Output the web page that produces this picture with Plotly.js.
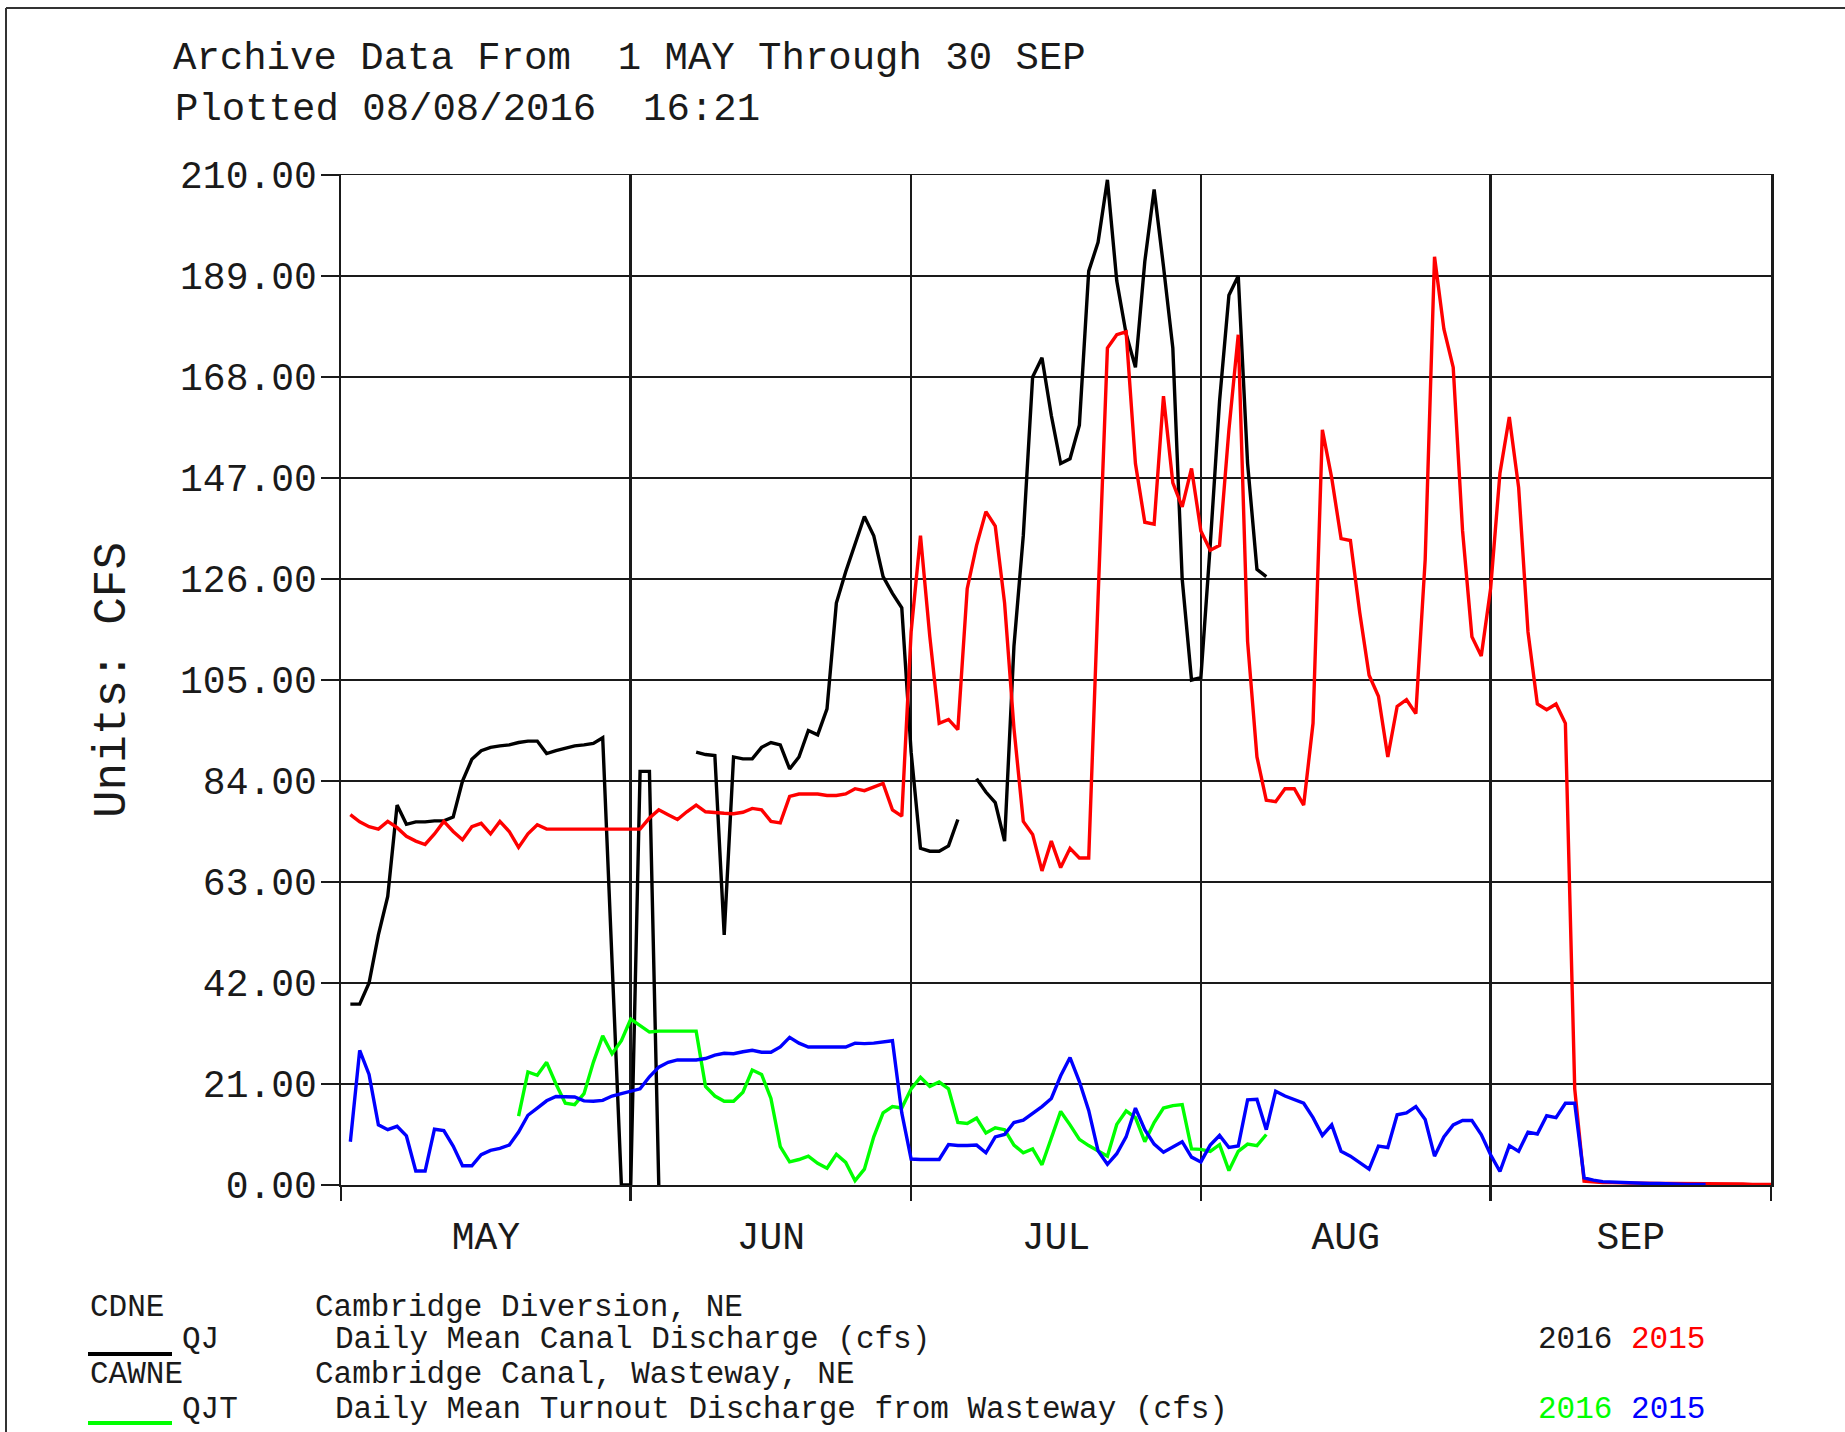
<!DOCTYPE html>
<html><head><meta charset="utf-8">
<script src="https://cdn.plot.ly/plotly-3.0.1.min.js"></script>
<style>html,body{margin:0;padding:0;background:#fff;} #chart{width:1845px;height:1432px;}</style>
</head><body><div id="chart"></div>
<script>
// ---- data (daily means, day 1 = 1 May, plotted at end of day) ----
const monthLabels = ['MAY', 'JUN', 'JUL', 'AUG', 'SEP'];
const monthStartDays = [0, 31, 61, 92, 123, 153];
const monthMidDays = [15.5, 46, 76.5, 107.5, 138];
const yTicks = [0, 21, 42, 63, 84, 105, 126, 147, 168, 189, 210];

// CDNE QJ 2016 (black)
const qj2016 = [
  37.6, 37.6, 42, 52, 60, 79, 75, 75.5, 75.5, 75.7,
  75.7, 76.5, 84, 88.5, 90.3, 91, 91.3, 91.5, 92, 92.3,
  92.3, 89.7, 90.3, 90.8, 91.3, 91.5, 91.8, 93, 45, 0,
  0, 86, 86, 0, null, null, null, 90, 89.5, 89.3,
  52, 89, 88.6, 88.6, 91, 92, 91.5, 86.5, 89, 94.5,
  93.6, 99, 121, 127.5, 133, 139, 135, 126.5, 123, 120,
  90, 70, 69.4, 69.4, 70.5, 76, null, 84.5, 81.7, 79.5,
  71.5, 112, 135, 168, 172, 160, 150, 151, 158, 190,
  196, 209, 188, 177, 170, 192, 207, 191, 174, 126,
  105, 105.5, 133, 163, 185, 189, 150, 128, 126.5
];
// CDNE QJ 2015 (red)
const qj2015 = [
  77, 75.5, 74.5, 74, 75.6, 74.3, 72.5, 71.5, 70.8, 73,
  75.6, 73.5, 71.8, 74.5, 75.2, 73, 75.6, 73.5, 70.2, 73,
  74.9, 74, 74, 74, 74, 74, 74, 74, 74, 74,
  74, 74, 76.3, 78, 77, 76, 77.6, 79, 77.6, 77.4,
  77.3, 77.2, 77.5, 78.3, 78, 75.6, 75.3, 80.8, 81.3, 81.3,
  81.3, 81, 81, 81.3, 82.4, 82, 82.8, 83.5, 78, 76.7,
  115, 135, 114, 96, 96.8, 94.7, 124, 133, 140, 137,
  121, 95, 75.6, 72.9, 65.3, 71.5, 66, 70, 68, 68,
  122, 174, 176.8, 177.4, 150, 137.8, 137.4, 164, 146, 141,
  149, 136, 132, 133, 157, 176.8, 113, 89, 80, 79.7,
  82.4, 82.4, 79, 96, 157, 147, 134.4, 134, 119, 106,
  101.6, 89, 99.5, 100.9, 98, 130, 193, 178, 170, 136,
  114, 110, 124, 148, 159.7, 145, 115, 100, 98.8, 100,
  96, 20, 0.8, 0.6, 0.5, 0.5, 0.4, 0.4, 0.4, 0.3,
  0.3, 0.3, 0.3, 0.2, 0.2, 0.2, 0.2, 0.2, 0.2, 0.2,
  0.1, 0.1, 0.1
];
// CAWNE QJT 2016 (green)
const qjt2016 = [
  null, null, null, null, null, null, null, null, null, null,
  null, null, null, null, null, null, null, null, 14.3, 23.5,
  22.8, 25.5, 21, 17, 16.7, 19, 25.5, 31, 27.3, 30,
  34.5, 33.2, 31.8, 32, 32, 32, 32, 32, 20.5, 18.5,
  17.4, 17.4, 19.3, 23.9, 23, 18, 8, 4.8, 5.3, 6,
  4.5, 3.5, 6.4, 4.7, 0.9, 3.3, 10, 15, 16.3, 16,
  20, 22.4, 20.5, 21.4, 20, 13, 12.8, 13.9, 10.8, 11.9,
  11.5, 8.3, 6.7, 7.5, 4.2, 10, 15.3, 12.5, 9.5, 8.2,
  7, 6, 12.6, 15.4, 14, 9, 13, 16, 16.5, 16.7,
  7.5, 7.4, 7, 8.4, 3, 7, 8.5, 8.2, 10.5
];
// CAWNE QJT 2015 (blue)
const qjt2015 = [
  9, 28, 23, 12.5, 11.5, 12.2, 10.2, 2.9, 2.9, 11.6,
  11.3, 8.1, 4, 4, 6.3, 7.2, 7.6, 8.3, 11, 14.5,
  16, 17.5, 18.4, 18.4, 18.3, 17.5, 17.4, 17.6, 18.5, 19,
  19.5, 20, 22.5, 24.5, 25.5, 26, 26, 26, 26.3, 27,
  27.4, 27.3, 27.7, 28, 27.6, 27.6, 28.7, 30.7, 29.5, 28.7,
  28.7, 28.7, 28.7, 28.7, 29.5, 29.4, 29.5, 29.8, 30, 15,
  5.4, 5.3, 5.3, 5.3, 8.4, 8.2, 8.2, 8.3, 6.7, 10,
  10.5, 13, 13.5, 14.8, 16.3, 18, 22.7, 26.5, 21.5, 15.5,
  7.1, 4.3, 6.5, 10, 16, 11.5, 8.5, 6.8, 8, 9,
  5.8, 4.8, 8.3, 10.3, 7.8, 8.1, 17.7, 17.8, 11.5, 19.5,
  18.5, 17.8, 17, 14, 10.3, 12.5, 7, 6, 4.7, 3.3,
  8.1, 7.8, 14.6, 15, 16.3, 13.6, 6, 10, 12.5, 13.4,
  13.4, 10.5, 6.3, 2.8, 8.2, 7, 11, 10.6, 14.4, 14,
  17, 17, 1.5, 1.0, 0.7, 0.6, 0.5, 0.5, 0.4, 0.3,
  0.3, 0.2, 0.2, 0.1, 0.1, 0.1
];

const dayIndex = n => Array.from({length: n}, (_, i) => i + 1);

// ---- layout helpers (pixel -> paper) ----
const L = 341, R = 74, T = 175, B = 247, W = 1845, H = 1432;
const PW = W - L - R, PH = H - T - B;
const px = x => (x - L) / PW;
const py = y => (H - B - y) / PH;

const FONT = 'Liberation Mono, DejaVu Sans Mono, monospace';
const INK = '#1a1a1a';
const GREEN = '#00ff00';

const traces = [
  {x: dayIndex(qj2016.length), y: qj2016, name: 'QJ 2016', type: 'scatter', mode: 'lines',
   line: {color: '#000000', width: 3.4}, connectgaps: false},
  {x: dayIndex(qj2015.length), y: qj2015, name: 'QJ 2015', type: 'scatter', mode: 'lines',
   line: {color: '#ff0000', width: 3.4}, connectgaps: false},
  {x: dayIndex(qjt2016.length), y: qjt2016, name: 'QJT 2016', type: 'scatter', mode: 'lines',
   line: {color: GREEN, width: 3.4}, connectgaps: false},
  {x: dayIndex(qjt2015.length), y: qjt2015, name: 'QJT 2015', type: 'scatter', mode: 'lines',
   line: {color: '#0000ff', width: 3.4}, connectgaps: false, xaxis: 'x2'}
];

function ann(text, x, y, size, extra) {
  return Object.assign({text: text, xref: 'paper', yref: 'paper', x: px(x), y: py(y),
    xanchor: 'left', yanchor: 'middle', showarrow: false,
    font: {family: FONT, size: size, color: INK}}, extra || {});
}

const layout = {
  width: W, height: H,
  margin: {l: L, r: R, t: T, b: B, pad: 0},
  paper_bgcolor: '#ffffff', plot_bgcolor: '#ffffff',
  showlegend: false,
  font: {family: FONT, color: INK},
  title: {text: 'Archive Data From\u00a0\u00a01 MAY Through 30 SEP',
    font: {family: FONT, size: 39, color: INK},
    xref: 'container', yref: 'container', x: 173 / W, xanchor: 'left',
    y: 1 - 55 / H, yanchor: 'middle', pad: {l: 0, r: 0, t: 0, b: 0}},
  xaxis: {range: [0, 153], tickmode: 'array', tickvals: monthStartDays,
    showticklabels: false, ticks: 'outside', ticklen: 14, tickwidth: 2.5, tickcolor: INK,
    showgrid: true, gridcolor: INK, gridwidth: 2.5, zeroline: false,
    showline: true, mirror: true, linecolor: INK, linewidth: 1.5, fixedrange: true},
  xaxis2: {range: [0, 153], overlaying: 'x', anchor: 'y', side: 'bottom',
    tickmode: 'array', tickvals: monthMidDays, ticktext: monthLabels,
    ticks: 'outside', ticklen: 17, tickcolor: 'rgba(0,0,0,0)', showgrid: false,
    zeroline: false, showline: false,
    tickfont: {family: FONT, size: 38, color: INK}},
  yaxis: {range: [0, 210], tickmode: 'array', tickvals: yTicks, tickformat: '.2f',
    ticks: 'outside', ticklen: 18, tickwidth: 1.5, tickcolor: INK,
    showgrid: true, gridcolor: INK, gridwidth: 1.5, zeroline: false,
    showline: true, mirror: true, linecolor: INK, linewidth: 2.5,
    ticklabelstandoff: -4,
    tickfont: {family: FONT, size: 38, color: INK},
    title: {text: 'Units: CFS', font: {family: FONT, size: 46, color: INK}, standoff: 40}},
  annotations: [
    ann('Plotted 08/08/2016\u00a0\u00a016:21', 173, 110, 39),
    ann('CDNE', 88, 1307, 31),
    ann('Cambridge Diversion, NE', 313, 1307, 31),
    ann('QJ', 180, 1339, 31),
    ann('Daily Mean Canal Discharge (cfs)', 333, 1339, 31),
    ann('2016 <span style="color:#ff0000">2015</span>', 1536, 1339, 31),
    ann('CAWNE', 88, 1374, 31),
    ann('Cambridge Canal, Wasteway, NE', 313, 1374, 31),
    ann('QJT', 180, 1409, 31),
    ann('Daily Mean Turnout Discharge from Wasteway (cfs)', 333, 1409, 31),
    ann('<span style="color:#00ff00">2016</span> <span style="color:#0000ff">2015</span>', 1536, 1409, 31)
  ],
  shapes: [
    {type: 'line', xref: 'paper', yref: 'paper', x0: px(88), x1: px(172), y0: py(1354), y1: py(1354),
     line: {color: '#000000', width: 4}},
    {type: 'line', xref: 'paper', yref: 'paper', x0: px(88), x1: px(172), y0: py(1423), y1: py(1423),
     line: {color: GREEN, width: 4}},
    {type: 'line', xref: 'paper', yref: 'paper', x0: px(6), x1: px(1900), y0: py(8), y1: py(8),
     line: {color: '#333333', width: 2}},
    {type: 'line', xref: 'paper', yref: 'paper', x0: px(6), x1: px(6), y0: py(8), y1: py(1500),
     line: {color: '#333333', width: 2}}
  ]
};

Plotly.newPlot('chart', traces, layout, {staticPlot: true, displayModeBar: false});
</script></body></html>
